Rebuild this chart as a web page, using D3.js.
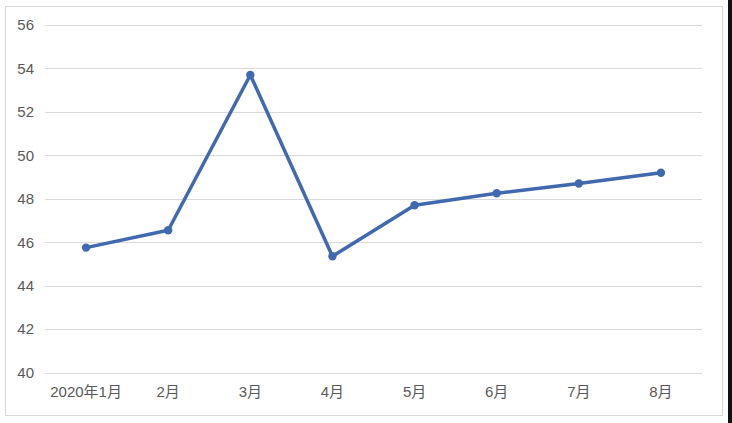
<!DOCTYPE html>
<html><head><meta charset="utf-8">
<script src="https://cdn.jsdelivr.net/npm/d3@7"></script>
<style>
html,body{margin:0;padding:0;background:#fff;}
svg{display:block;}
</style></head>
<body>
<svg id="chart" width="732" height="423"></svg>
<script>
const categories = ["2020年1月","2月","3月","4月","5月","6月","7月","8月"];
const values = [45.75, 46.55, 53.7, 45.35, 47.7, 48.25, 48.7, 49.2];
const yTicks = [40,42,44,46,48,50,52,54,56];

(function(){
const svg = d3.select("#chart");
const W = 732, H = 423;
const font = "'Liberation Sans', Arial, 'Noto Sans CJK SC', sans-serif";

// outer frame
svg.append("rect").attr("x",5.5).attr("y",6.5).attr("width",717).attr("height",409)
  .attr("fill","#fff").attr("stroke","#d9d9d9").attr("stroke-width",1);
// dark strip at right edge
svg.append("rect").attr("x",728).attr("y",0).attr("width",4).attr("height",H).attr("fill","#111");

const mLeft = 45, mRight = 702, mTop = 25, mBottom = 372.5;
const x = d3.scaleBand().domain(categories).range([mLeft,mRight]);
const y = d3.scaleLinear().domain([40,56]).range([mBottom,mTop]);

// gridlines
svg.append("g").selectAll("line").data(yTicks).join("line")
  .attr("x1",mLeft).attr("x2",mRight)
  .attr("y1",d=>Math.round(y(d))+0.5).attr("y2",d=>Math.round(y(d))+0.5)
  .attr("stroke","#d9d9d9").attr("stroke-width",1);

// y axis labels
const yAxis = d3.axisLeft(y).tickValues(yTicks).tickSize(0).tickPadding(11);
const gy = svg.append("g").attr("transform",`translate(${mLeft},0)`).call(yAxis);
gy.select(".domain").remove();
gy.selectAll("text").attr("fill","#595959").style("font-family",font).style("font-size","15px");

// x axis labels
const xAxis = d3.axisBottom(x).tickSize(0).tickPadding(14);
const gx = svg.append("g").attr("transform",`translate(0,${mBottom})`).call(xAxis);
gx.select(".domain").remove();
gx.selectAll("text").attr("fill","#595959").style("font-family",font).style("font-size","15px");

const cx = d => x(d) + x.bandwidth()/2;
const pts = categories.map((c,i)=>[cx(c), y(values[i])]);

svg.append("path").datum(pts)
  .attr("d", d3.line())
  .attr("fill","none").attr("stroke","#4069b0").attr("stroke-width",3.5)
  .attr("stroke-linejoin","round");

svg.append("g").selectAll("circle").data(pts).join("circle")
  .attr("cx",d=>d[0]).attr("cy",d=>d[1]).attr("r",4.2)
  .attr("fill","#4069b0");
})();
</script>
</body></html>
